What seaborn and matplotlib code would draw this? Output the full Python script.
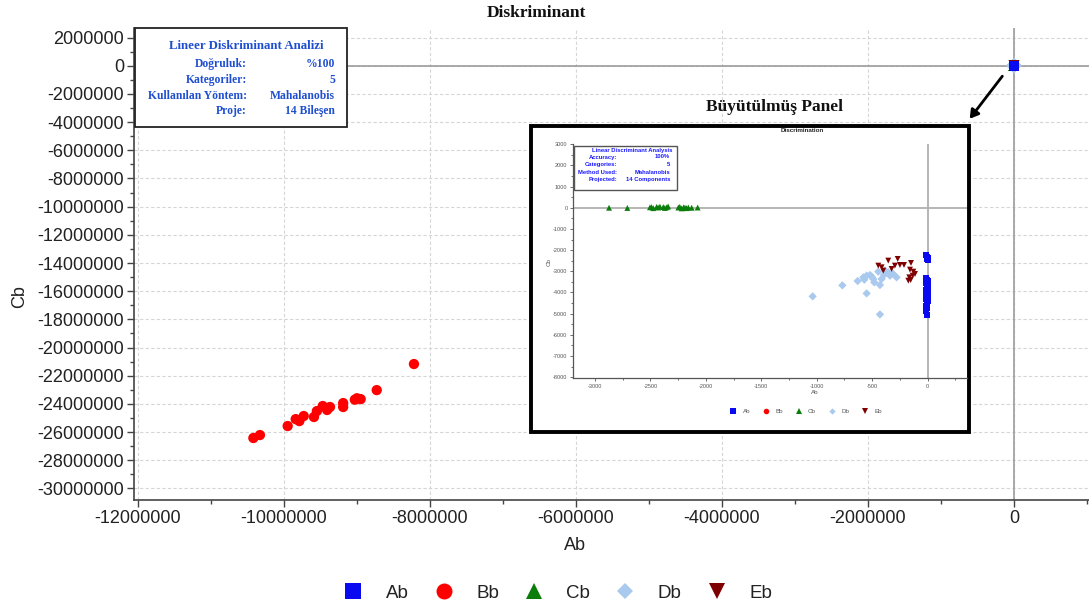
import numpy as np
import pandas as pd
import matplotlib
matplotlib.use("Agg")
import matplotlib.pyplot as plt
import seaborn as sns
from matplotlib.lines import Line2D
from matplotlib.patches import Rectangle, FancyArrowPatch
from matplotlib.ticker import MultipleLocator, FuncFormatter

# ---------------- data ----------------
categories = ["Ab", "Bb", "Cb", "Db", "Eb"]

# Bb (only visible at full scale)
bb_x = [-8220000, -8730000, -8950000, -9000000, -9030000, -9190000, -9190000, -9370000, -9410000,
        -9470000, -9550000, -9590000, -9730000, -9790000, -9840000, -9950000, -10330000, -10420000]
bb_y = [-21170000, -23020000, -23660000, -23600000, -23700000, -23940000, -24220000, -24220000, -24430000,
        -24150000, -24510000, -24930000, -24860000, -25220000, -25080000, -25570000, -26210000, -26420000]

# Ab, Cb, Db, Eb (collapse to the origin at full scale; visible in the zoomed panel)
ab_x = [-12, -8, 3, -10, 5, -14, -6, 2, -12, 4, -9, 6, -15, -3, 5, -11, 0, -13, 4, -8, -14, -5, -12, -9]
ab_y = [-2250, -2330, -2380, -2420, -2470, -3300, -3390, -3480, -3560, -3640, -3720, -3810, -3900,
        -3980, -4060, -4150, -4240, -4330, -4420, -4520, -4640, -4760, -4890, -5060]
cb_x = [-2873, -2708, -2504, -2490, -2474, -2444, -2430, -2414, -2384, -2370, -2353, -2340,
        -2248, -2235, -2218, -2200, -2188, -2175, -2158, -2128, -2074]
cb_y = [0, -10, 20, 30, -20, 40, 10, 50, 30, -10, 20, 60, 10, 40, -30, 20, 0, -20, 10, 0, 10]
db_x = [-1037, -769, -631, -580, -571, -550, -520, -505, -490, -481, -550, -430, -415, -430,
        -445, -394, -355, -340, -310, -280, -385]
db_y = [-4186, -3665, -3460, -3286, -3396, -3207, -3175, -3254, -3365, -3523, -4044, -3649, -3365,
        -5039, -3017, -3175, -3049, -3207, -3128, -3286, -2970]
eb_x = [-445, -415, -400, -355, -325, -295, -270, -250, -213, -150, -159, -129, -114, -165, -153, -135, -174]
eb_y = [-2733, -2812, -2970, -2496, -2891, -2733, -2417, -2701, -2701, -2607, -2923, -3017, -3128,
        -3286, -3412, -3207, -3444]

palette = {"Ab": "#0a0af0", "Bb": "#ff0000", "Cb": "#0b7d0b", "Db": "#a9c9ee", "Eb": "#7e0000"}
markers = {"Ab": "s", "Bb": "o", "Cb": "^", "Db": "D", "Eb": "v"}

series = {"Ab": (ab_x, ab_y), "Bb": (bb_x, bb_y), "Cb": (cb_x, cb_y), "Db": (db_x, db_y), "Eb": (eb_x, eb_y)}

def frame(order):
    parts = []
    for k in order:
        x, y = series[k]
        parts.append(pd.DataFrame({"Ab": x, "Cb": y, "group": k}))
    return pd.concat(parts, ignore_index=True)

df_main = frame(["Bb", "Cb", "Db", "Eb", "Ab"])
df_zoom = frame(["Cb", "Db", "Eb", "Ab"])

# ---------------- style ----------------
sns.set_theme(style="white")
plt.rcParams["font.family"] = ["Liberation Sans", "DejaVu Sans"]
plt.rcParams["axes.unicode_minus"] = False

W, H = 1089, 610
fig = plt.figure(figsize=(W / 100, H / 100), dpi=100)

def fx(px):
    return px / W

def fy(py):
    return 1 - py / H

# ---------------- main axes ----------------
ax = fig.add_axes([fx(134), fy(500), fx(1089) - fx(134), fy(28) - fy(500)])
sns.scatterplot(data=df_main, x="Ab", y="Cb", hue="group", style="group",
                hue_order=categories, style_order=categories, palette=palette,
                markers=markers, s=55, linewidth=0, legend=False, ax=ax, zorder=3)
ax.set_xlim(-12055000, 1027000)
ax.set_ylim(-30820000, 2680000)
ax.xaxis.set_major_locator(MultipleLocator(2000000))
ax.xaxis.set_minor_locator(MultipleLocator(1000000))
ax.yaxis.set_major_locator(MultipleLocator(2000000))
ax.yaxis.set_minor_locator(MultipleLocator(1000000))
fmt = FuncFormatter(lambda v, p: f"{int(round(v))}")
ax.xaxis.set_major_formatter(fmt)
ax.yaxis.set_major_formatter(fmt)
ax.grid(which="major", linestyle=(0, (3, 2)), color="#d6d6d6", linewidth=0.8, zorder=0)
ax.axhline(0, color="#9c9c9c", linewidth=1.2, zorder=1)
ax.axvline(0, color="#9c9c9c", linewidth=1.2, zorder=1)
for s in ["top", "right"]:
    ax.spines[s].set_visible(False)
for s in ["left", "bottom"]:
    ax.spines[s].set_color("#444444")
    ax.spines[s].set_linewidth(1.2)
ax.tick_params(which="both", direction="out", color="#444444", width=1, bottom=True, left=True)
ax.tick_params(which="major", length=5, labelsize=13, labelcolor="#222222", pad=2)
ax.tick_params(which="minor", length=3)
ax.set_xlabel("Ab", fontsize=13, color="#222222")
ax.set_ylabel("Cb", fontsize=13, color="#222222")
ax.xaxis.set_label_coords((575 - 134) / 955, (500 - 537) / 472)
ax.yaxis.set_label_coords((28 - 134) / 955, (500 - 297) / 472)

serif = ["Liberation Serif", "DejaVu Serif"]
fig.text(fx(536), fy(13), "Diskriminant", ha="center", va="center", fontsize=12.5,
         fontweight="bold", family=serif, color="#111111")

# stats box (main)
blue_txt = "#1f4fd1"
fig.add_artist(Rectangle((fx(135), fy(127)), fx(347) - fx(135), fy(28) - fy(127),
                         transform=fig.transFigure, facecolor="white", edgecolor="#222222",
                         linewidth=1.3, zorder=2))
fig.text(fx(246), fy(46), "Lineer Diskriminant Analizi", ha="center", va="center",
         fontsize=9.3, fontweight="bold", family=serif, color=blue_txt, zorder=3)
rows_lbl = ["Doğruluk:", "Kategoriler:", "Kullanılan Yöntem:", "Proje:"]
rows_val = ["%100", "5", "Mahalanobis", "14 Bileşen"]
rows_y = [64, 80, 96, 111]
for l, v, yy in zip(rows_lbl, rows_val, rows_y):
    fig.text(fx(247), fy(yy), l, ha="right", va="center", fontsize=8.4, fontweight="bold",
             family=serif, color=blue_txt, zorder=3)
    fig.text(fx(335), fy(yy), v, ha="right", va="center", fontsize=8.4, fontweight="bold",
             family=serif, color=blue_txt, zorder=3)

# ---------------- zoomed panel ----------------
fig.text(fx(774), fy(107), "Büyütülmüş Panel", ha="center", va="center", fontsize=12.5,
         fontweight="bold", family=serif, color="#111111")
fig.add_artist(Rectangle((fx(531), fy(432)), fx(969) - fx(531), fy(126) - fy(432),
                         transform=fig.transFigure, facecolor="white", edgecolor="black",
                         linewidth=2.8, zorder=4))
fig.add_artist(FancyArrowPatch((fx(1004), fy(74)), (fx(968), fy(121)), transform=fig.transFigure,
                               arrowstyle="-|>,head_length=5,head_width=3", color="black",
                               linewidth=2, zorder=4))

axi = fig.add_axes([fx(573), fy(378), fx(967) - fx(573), fy(144) - fy(378)], zorder=5)
axi.patch.set_alpha(0)
sns.scatterplot(data=df_zoom, x="Ab", y="Cb", hue="group", style="group",
                hue_order=categories, style_order=categories, palette=palette,
                markers=markers, s=18, linewidth=0, legend=False, ax=axi, zorder=3)
axi.set_xlim(-3198, 355)
axi.set_ylim(-8040, 3010)
axi.xaxis.set_major_locator(MultipleLocator(500))
axi.xaxis.set_minor_locator(MultipleLocator(250))
axi.yaxis.set_major_locator(MultipleLocator(1000))
axi.yaxis.set_minor_locator(MultipleLocator(500))
fmt2 = FuncFormatter(lambda v, p: f"{int(round(v))}")
axi.xaxis.set_major_formatter(fmt2)
axi.yaxis.set_major_formatter(fmt2)
axi.grid(False)
axi.axhline(0, color="#b0b0b0", linewidth=1.3, zorder=1)
axi.axvline(0, color="#b0b0b0", linewidth=1.3, zorder=1)
for s in ["top", "right"]:
    axi.spines[s].set_visible(False)
for s in ["left", "bottom"]:
    axi.spines[s].set_color("#555555")
    axi.spines[s].set_linewidth(0.9)
axi.tick_params(which="both", direction="out", color="#555555", width=0.6, bottom=True, left=True)
axi.tick_params(which="major", length=2.5, labelsize=4, labelcolor="#555555", pad=1.5)
axi.tick_params(which="minor", length=1.5)
axi.set_xlabel("Ab", fontsize=4.5, color="#555555")
axi.set_ylabel("Cb", fontsize=4.5, color="#555555")
axi.xaxis.set_label_coords((815 - 573) / 394, (378 - 390) / 234)
axi.yaxis.set_label_coords((552 - 573) / 394, (378 - 262) / 234)
fig.text(fx(802), fy(131), "Discrimination", ha="center", va="center", fontsize=4.5,
         fontweight="bold", color="#222222", zorder=6)

# stats box (panel)
fig.add_artist(Rectangle((fx(574), fy(190)), fx(677) - fx(574), fy(146) - fy(190),
                         transform=fig.transFigure, facecolor="white", edgecolor="#555555",
                         linewidth=1.0, zorder=6))
fig.text(fx(632), fy(150), "Linear Discriminant Analysis", ha="center", va="center",
         fontsize=4.2, fontweight="bold", color="#1a1aff", zorder=7)
rows_lbl2 = ["Accuracy:", "Categories:", "Method Used:", "Projected:"]
rows_val2 = ["100%", "5", "Mahalanobis", "14 Components"]
rows_y2 = [157, 164.5, 172, 179.5]
for l, v, yy in zip(rows_lbl2, rows_val2, rows_y2):
    fig.text(fx(617), fy(yy), l, ha="right", va="center", fontsize=4.2, fontweight="bold",
             color="#1a1aff", zorder=7)
    fig.text(fx(670), fy(yy), v, ha="right", va="center", fontsize=4.2, fontweight="bold",
             color="#1a1aff", zorder=7)

# panel legend
msz_small = {"Ab": 4, "Bb": 4, "Cb": 4.5, "Db": 3.2, "Eb": 4.5}
h_small = [Line2D([], [], marker=markers[c], linestyle="none", color=palette[c],
                  markersize=msz_small[c], markeredgewidth=0) for c in categories]
leg_i = axi.legend(h_small, categories, loc="center", bbox_to_anchor=(fx(806), fy(411)),
                   bbox_transform=fig.transFigure, ncol=5, frameon=False, fontsize=4.5,
                   handlelength=1.0, handletextpad=1.0, columnspacing=2.0)
for t in leg_i.get_texts():
    t.set_color("#555555")

# ---------------- main legend ----------------
msz = {"Ab": 11, "Bb": 11.5, "Cb": 12, "Db": 8.5, "Eb": 12}
handles = [Line2D([], [], marker=markers[c], linestyle="none", color=palette[c],
                  markersize=msz[c], markeredgewidth=0) for c in categories]
leg = fig.legend(handles, categories, loc="center", bbox_to_anchor=(fx(558), fy(593)), ncol=5,
                 frameon=False, fontsize=13.5, handlelength=1.0, handletextpad=1.23,
                 columnspacing=1.37)
for t in leg.get_texts():
    t.set_color("#222222")

fig.savefig("out.png", dpi=100)
